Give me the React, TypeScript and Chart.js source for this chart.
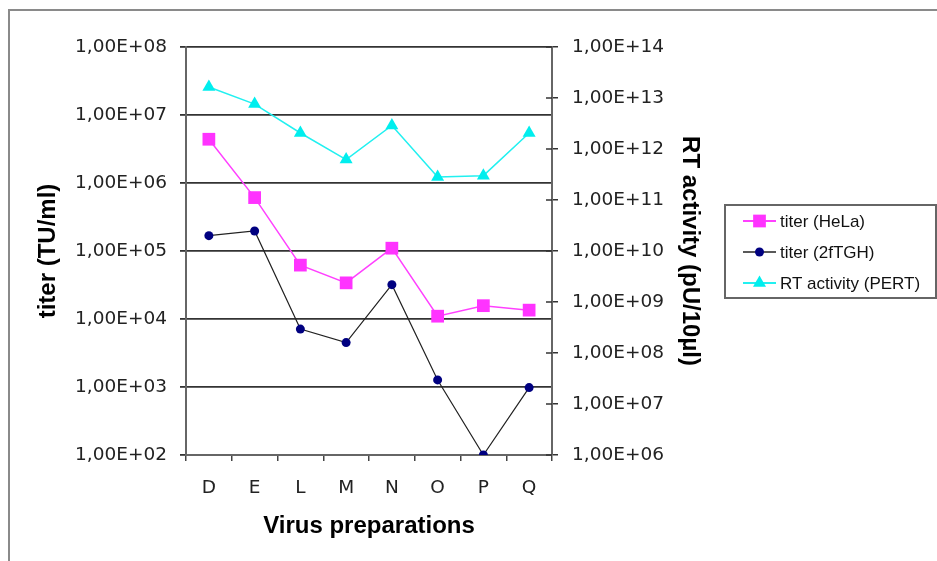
import React, { useEffect, useRef } from "react";
import { Chart, registerables } from "chart.js";

Chart.register(...registerables);

const categories = ["D", "E", "L", "M", "N", "O", "P", "Q"];
const titerHeLa = [4.4e6, 6.1e5, 6.2e4, 3.4e4, 1.1e5, 1.1e4, 1.57e4, 1.35e4];
const titer2fTGH = [1.68e5, 1.97e5, 7.1e3, 4.5e3, 3.2e4, 1.27e3, 1.0e2, 9.8e2];
const rtActivity = [1.64e13, 7.6e12, 2.06e12, 6.2e11, 2.9e12, 2.83e11, 3.0e11, 2.06e12];
const seriesLabels = ["titer (HeLa)", "titer (2fTGH)", "RT activity (PERT)"];
const leftTicks = [1e2, 1e3, 1e4, 1e5, 1e6, 1e7, 1e8];
const rightTicks = [1e6, 1e7, 1e8, 1e9, 1e10, 1e11, 1e12, 1e13, 1e14];
const xTitle = "Virus preparations";
const leftTitle = "titer (TU/ml)";
const rightTitle = "RT activity (pU/10µl)";

function fmtSci(v: number): string {
  const e = Math.round(Math.log10(v));
  const m = v / Math.pow(10, e);
  const ms = m.toFixed(2).replace(".", ",");
  return ms + "E+" + (e < 10 ? "0" + e : String(e));
}

const TICK_FONT = { family: "'DejaVu Sans', Verdana, sans-serif", size: 18.5 };
const TITLE_FONT = { family: "'Liberation Sans', Arial, sans-serif", size: 24, weight: "bold" as const };

function drawMarker(ctx: CanvasRenderingContext2D, style: string, x: number, y: number, r: number, color: string) {
  ctx.save();
  ctx.fillStyle = color;
  ctx.beginPath();
  if (style === "rect") {
    const s = r * Math.SQRT1_2;
    ctx.rect(x - s, y - s, 2 * s, 2 * s);
  } else if (style === "triangle") {
    ctx.moveTo(x, y - r);
    ctx.lineTo(x + r * Math.sin((2 * Math.PI) / 3), y + r / 2);
    ctx.lineTo(x - r * Math.sin((2 * Math.PI) / 3), y + r / 2);
    ctx.closePath();
  } else {
    ctx.arc(x, y, r, 0, Math.PI * 2);
  }
  ctx.fill();
  ctx.restore();
}

const extrasPlugin = {
  id: "extras",
  afterDraw(chart: any) {
    const ctx: CanvasRenderingContext2D = chart.ctx;
    const area = chart.chartArea;
    const ry = chart.scales.y2;
    ctx.save();
    ctx.strokeStyle = "#333";
    ctx.lineWidth = 1.5;
    rightTicks.forEach((v) => {
      const py = ry.getPixelForValue(v);
      ctx.beginPath();
      ctx.moveTo(area.right - 6, py);
      ctx.lineTo(area.right, py);
      ctx.stroke();
    });
    ctx.restore();

    const lx = 725, ly = 205, lw = 211, lh = 93;
    ctx.save();
    ctx.strokeStyle = "#666";
    ctx.lineWidth = 2;
    ctx.strokeRect(lx, ly, lw, lh);
    ctx.font = "17px 'Liberation Sans', Arial, sans-serif";
    ctx.textBaseline = "middle";
    chart.data.datasets.forEach((ds: any, i: number) => {
      const y = ly + 16 + i * 31;
      ctx.strokeStyle = ds.borderColor;
      ctx.lineWidth = ds.borderWidth + 0.5;
      ctx.beginPath();
      ctx.moveTo(743, y);
      ctx.lineTo(776, y);
      ctx.stroke();
      drawMarker(ctx, ds.pointStyle, 759.5, y, ds.pointRadius, ds.pointBackgroundColor);
      ctx.fillStyle = "#111";
      ctx.fillText(ds.label, 780, y + 1);
    });
    ctx.restore();
  },
};

export default function App() {
  const ref = useRef<HTMLCanvasElement | null>(null);

  useEffect(() => {
    if (!ref.current) return;
    const chart = new Chart(ref.current, {
      type: "line",
      data: {
        labels: categories,
        datasets: [
          {
            label: seriesLabels[0],
            data: titerHeLa,
            yAxisID: "y",
            borderColor: "#FF40FF",
            borderWidth: 1.5,
            pointStyle: "rect",
            pointRadius: 9,
            pointBackgroundColor: "#FF33FF",
            pointBorderColor: "#FF33FF",
            pointBorderWidth: 0,
            tension: 0,
          },
          {
            label: seriesLabels[1],
            data: titer2fTGH,
            yAxisID: "y",
            borderColor: "#222222",
            borderWidth: 1.2,
            pointStyle: "circle",
            pointRadius: 4.5,
            pointBackgroundColor: "#000080",
            pointBorderColor: "#000080",
            pointBorderWidth: 0,
            tension: 0,
          },
          {
            label: seriesLabels[2],
            data: rtActivity,
            yAxisID: "y2",
            borderColor: "#22F0F0",
            borderWidth: 1.5,
            pointStyle: "triangle",
            pointRadius: 7.5,
            pointBackgroundColor: "#00EEEE",
            pointBorderColor: "#00EEEE",
            pointBorderWidth: 0,
            tension: 0,
          },
        ] as any,
      },
      options: {
        responsive: false,
        animation: false,
        layout: { padding: { left: 0, top: 47, right: 225, bottom: 0 } },
        plugins: {
          legend: { display: false },
          tooltip: { enabled: false },
        },
        scales: {
          x: {
            type: "category",
            offset: true,
            grid: { offset: true, drawOnChartArea: false, drawTicks: true, tickLength: 6, color: "#444", lineWidth: 1.5 },
            border: { display: true, color: "#666", width: 2 },
            ticks: { font: TICK_FONT, color: "#222", padding: 16, maxRotation: 0, autoSkip: false },
            title: { display: true, text: xTitle, font: TITLE_FONT, color: "#000", padding: { top: 0, bottom: 20.6 } },
            afterFit: (s: any) => { s.height = 106; },
          },
          y: {
            type: "logarithmic",
            position: "left",
            min: 1e2,
            max: 1e8,
            afterBuildTicks: (s: any) => { s.ticks = leftTicks.map((v) => ({ value: v })); },
            grid: { drawOnChartArea: true, drawTicks: true, tickLength: 6, color: "#333", lineWidth: 1.8 },
            border: { display: true, color: "#666", width: 2 },
            ticks: { font: TICK_FONT, color: "#222", padding: 13, autoSkip: false, callback: (v: any) => fmtSci(Number(v)) },
            title: { display: true, text: leftTitle, font: TITLE_FONT, color: "#000", padding: { top: 33.6, bottom: 0 } },
            afterFit: (s: any) => { s.width = 186; },
          },
          y2: {
            type: "logarithmic",
            position: "right",
            min: 1e6,
            max: 1e14,
            afterBuildTicks: (s: any) => { s.ticks = rightTicks.map((v) => ({ value: v })); },
            grid: { drawOnChartArea: false, drawTicks: true, tickLength: 6, color: "#333", lineWidth: 1.5 },
            border: { display: true, color: "#666", width: 2 },
            ticks: { font: TICK_FONT, color: "#222", padding: 14, autoSkip: false, callback: (v: any) => fmtSci(Number(v)) },
            title: { display: true, text: rightTitle, font: TITLE_FONT, color: "#000", padding: { top: 7.6, bottom: 0 } },
            afterFit: (s: any) => { s.width = 160; },
          },
        },
      } as any,
      plugins: [extrasPlugin],
    });
    return () => chart.destroy();
  }, []);

  return (
    <div style={{ position: "absolute", left: 0, top: 0, width: 937, height: 561, background: "#fff", overflow: "hidden" }}>
      <div
        style={{
          position: "absolute",
          left: 8,
          top: 9,
          width: 940,
          height: 560,
          borderLeft: "2px solid #8a8a8a",
          borderTop: "2px solid #8a8a8a",
        }}
      />
      <canvas ref={ref} width={937} height={561} style={{ position: "absolute", left: 0, top: 0, width: 937, height: 561 }} />
    </div>
  );
}
